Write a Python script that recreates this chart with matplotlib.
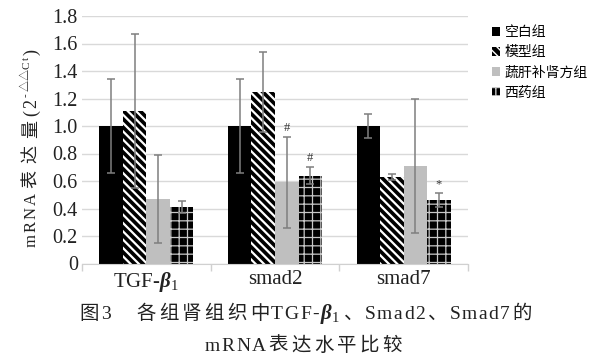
import matplotlib
matplotlib.use("Agg")
import matplotlib.pyplot as plt
import matplotlib.transforms as mtransforms
from matplotlib.patches import Rectangle
import numpy as np

LATIN = "Liberation Serif"
CJK = "Noto Sans CJK SC"

plt.rcParams["mathtext.fontset"] = "custom"
plt.rcParams["mathtext.rm"] = LATIN
plt.rcParams["mathtext.it"] = LATIN + ":italic"
plt.rcParams["mathtext.bf"] = LATIN + ":bold"
plt.rcParams["mathtext.bfit"] = LATIN + ":italic:bold"

# data
categories = ["TGF-$\\boldsymbol{\\beta}_{1}$", "smad2", "smad7"]
groups = ["空白组", "模型组", "蔬肝补肾方组", "西药组"]

blank = [1.00, 1.00, 1.00]
blank_err = [0.34, 0.34, 0.09]
model = [1.11, 1.25, 0.63]
model_err = [0.56, 0.29, 0.02]
herb = [0.47, 0.59, 0.71]
herb_err = [0.32, 0.33, 0.49]
western = [0.41, 0.64, 0.46]
western_err = [0.045, 0.06, 0.05]

mark_cat = [1, 1, 2]
mark_series = [2, 3, 3]
mark_sym = ["#", "#", "*"]

yticks = [0, 0.2, 0.4, 0.6, 0.8, 1.0, 1.2, 1.4, 1.6, 1.8]
ytick_labels = ["0", "0.2", "0.4", "0.6", "0.8", "1.0", "1.2", "1.4", "1.6", "1.8"]

series = [blank, model, herb, western]
errors = [blank_err, model_err, herb_err, western_err]
styles = [
    dict(color="black", hatch=None, hcolor=None, hlw=1.0),
    dict(color="black", hatch="\\\\\\\\", hcolor="white", hlw=1.6),
    dict(color="#bfbfbf", hatch=None, hcolor=None, hlw=1.0),
    dict(color="black", hatch="++", hcolor="#c8c8c8", hlw=0.9),
]


def make_bars(ax, x, h, w, st, **kw):
    with plt.rc_context({"hatch.linewidth": st["hlw"]}):
        if st["hatch"]:
            bars = ax.bar(x, h, w, facecolor=st["color"], edgecolor=st["hcolor"],
                          hatch=st["hatch"], linewidth=0, **kw)
        else:
            bars = ax.bar(x, h, w, color=st["color"], linewidth=0, **kw)
    for b in bars:
        if hasattr(b, "set_hatch_linewidth"):
            b.set_hatch_linewidth(st["hlw"])
    return bars


fig = plt.figure(figsize=(6, 3.56), dpi=100)
ax = fig.add_axes([82 / 600, 92.5 / 356, 386 / 600, 247.5 / 356])

x = np.arange(len(categories))
w = 0.183
offsets = (np.arange(4) - 1.5) * w
for i in range(4):
    make_bars(ax, x + offsets[i], series[i], w, styles[i], zorder=2)
    ax.errorbar(x + offsets[i], series[i], yerr=errors[i], fmt="none",
                ecolor="#7f7f7f", elinewidth=1.1, capsize=3, capthick=1.1, zorder=3)

for c, s, sym in zip(mark_cat, mark_series, mark_sym):
    top = series[s][c] + errors[s][c]
    ax.annotate(sym, (x[c] + offsets[s], top), xytext=(0, 2), textcoords="offset points",
                ha="center", va="bottom", fontsize=9, family=LATIN, color="#333333")

ax.set_xlim(-0.5, 2.5)
ax.set_ylim(0, 1.8)
ax.set_yticks(yticks)
ax.set_yticklabels(ytick_labels, family=LATIN, fontsize=14.5, color="#222222")
ax.tick_params(axis="y", length=0, pad=3)
ax.set_xticks(x)
ax.set_xticklabels(categories, family=LATIN, fontsize=15, color="#222222")
ax.set_xticks([-0.5, 0.5, 1.5, 2.5], minor=True)
ax.tick_params(axis="x", which="major", length=0, pad=5)
ax.tick_params(axis="x", which="minor", length=5, color="#d0d0d0", width=1)
ax.grid(axis="y", color="#d9d9d9", linewidth=1)
ax.set_axisbelow(True)
for sp in ["top", "right", "left"]:
    ax.spines[sp].set_visible(False)
ax.spines["bottom"].set_color("#d0d0d0")

# legend
handles = []
for st in styles:
    handles.append(Rectangle((0, 0), 1, 1, facecolor=st["color"],
                             edgecolor=st["hcolor"] if st["hatch"] else st["color"],
                             hatch=st["hatch"], linewidth=0))
fig.legend(handles, groups, loc="upper left", bbox_to_anchor=(492 / 600, 1 - 25 / 356),
           frameon=False, prop={"family": CJK, "size": 10}, handlelength=0.6,
           handleheight=0.6, handletextpad=0.3, labelspacing=0.45, borderpad=0,
           borderaxespad=0)


def char_row(tokens, cx, cy, rotation=0, track=1.0):
    # tokens: (text, size, rise_px, cjk_adv); lays out char by char like a Song-style font
    r = fig.canvas.get_renderer()
    th = np.deg2rad(rotation)
    d = np.array([np.cos(th), np.sin(th)])
    u = np.array([-np.sin(th), np.cos(th)])
    placed = []
    pos = 0.0
    for txt, size, rise, adv in tokens:
        chunks = [txt] if "$" in txt else list(txt)
        for c in chunks:
            if c == "\u3000":
                pos += adv
                continue
            cjk = "$" not in c and ord(c) > 0x2000
            t = fig.text(0, 0, c, fontsize=size, family=CJK if cjk else LATIN,
                         ha="left", va="baseline", rotation_mode="anchor",
                         color="#222222", transform=mtransforms.IdentityTransform())
            wpx = t.get_window_extent(r).width
            t.set_rotation(rotation)
            if cjk:
                placed.append((t, pos + (adv - wpx) / 2, rise))
                pos += adv
            else:
                placed.append((t, pos, rise))
                pos += wpx + track
    start = np.array([cx, cy]) - d * pos / 2
    for t, p, rise in placed:
        xy = start + d * p + u * rise
        t.set_position((xy[0], xy[1]))


# y axis label
char_row([("mRNA", 12, 0, 0), ("表达量", 13, 0, 25), ("(2", 13, 0, 0),
          ("-△△Ct", 8, 7, 11), (")", 13, 0, 0)],
         36, 356 - 147, rotation=90, track=2.0)

# caption
char_row([("图3\u3000各组肾组织中TGF-", 14, 0, 22.7), ("$\\boldsymbol{\\beta}_{1}$", 15, 0, 0),
          ("、Smad2、Smad7的", 14, 0, 22.7)], 306, 356 - 319, track=1.5)
char_row([("mRNA表达水平比较", 14, 0, 22.7)], 304, 356 - 351, track=1.5)

fig.savefig("out.png", dpi=100)
